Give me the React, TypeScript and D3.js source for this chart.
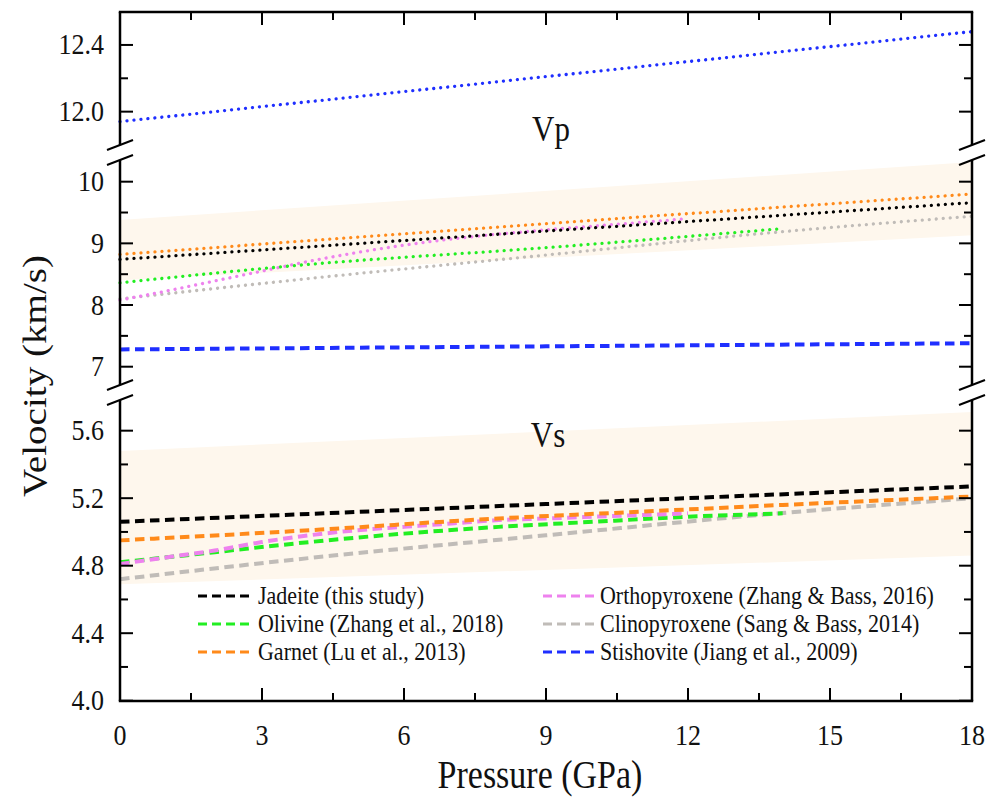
import React from "react";
import * as d3 from "d3";

// ---------- data ----------
const pressureTicks = [0, 3, 6, 9, 12, 15, 18];

type Pt = [number, number];
// Vp (dotted)
const stishoviteVp: Pt[] = [[0, 11.94], [9, 12.21], [18, 12.48]];
const jadeiteVp: Pt[] = [[0, 8.74], [9, 9.2], [18, 9.66]];
const garnetVp: Pt[] = [[0, 8.82], [9, 9.32], [18, 9.8]];
const olivineVp: Pt[] = [[0, 8.36], [4, 8.66], [9, 8.93], [14, 9.24]];
const opxVp: Pt[] = [[0, 8.08], [1, 8.23], [2, 8.39], [3, 8.55], [4, 8.71], [5, 8.85], [6, 8.97], [7, 9.07], [8, 9.15], [9, 9.22], [10, 9.28], [11, 9.34], [12, 9.4]];
const cpxVp: Pt[] = [[0, 8.1], [4, 8.43], [9, 8.81], [14, 9.19], [18, 9.44]];
// Vs (dashed)
const stishoviteVs: Pt[] = [[0, 7.28], [9, 7.33], [18, 7.38]];
const jadeiteVs: Pt[] = [[0, 5.06], [9, 5.165], [18, 5.27]];
const garnetVs: Pt[] = [[0, 4.95], [4, 5.01], [8, 5.08], [11, 5.12], [14, 5.16], [18, 5.21]];
const olivineVs: Pt[] = [[0, 4.82], [2, 4.88], [4, 4.94], [6, 4.99], [8, 5.03], [10, 5.06], [12, 5.09], [14, 5.11]];
const opxVs: Pt[] = [[0, 4.81], [1, 4.85], [2, 4.89], [3, 4.94], [4, 4.98], [5, 5.01], [6, 5.03], [7, 5.05], [8, 5.07], [9, 5.08], [10, 5.09], [11, 5.1], [12, 5.11]];
const cpxVs: Pt[] = [[0, 4.72], [4.5, 4.86], [9, 4.98], [13.5, 5.1], [18, 5.2]];
// shaded ranges [P, low, high]
const vpBand: [number, number, number][] = [[0, 8.4, 9.38], [18, 9.13, 10.32]];
const vsBand: [number, number, number][] = [[0, 4.69, 5.48], [18, 4.86, 5.71]];

const legendNames = [
  "Jadeite (this study)",
  "Olivine (Zhang et al., 2018)",
  "Garnet (Lu et al., 2013)",
  "Orthopyroxene (Zhang & Bass, 2016)",
  "Clinopyroxene (Sang & Bass, 2014)",
  "Stishovite (Jiang et al., 2009)",
];
const colors = ["#000000", "#22ee22", "#ff8a1a", "#ee82ee", "#c0bcb8", "#1f2fff"];

const topTicks = [12.0, 12.2, 12.4];
const midTicks = [7, 7.5, 8, 8.5, 9, 9.5, 10];
const botTicks = [4.0, 4.2, 4.4, 4.6, 4.8, 5.0, 5.2, 5.4, 5.6];

// ---------- layout ----------
const W = 989, H = 801;
const X0 = 120, X1 = 972, YT = 12, YB = 701;
const FONT = "Liberation Serif, Times New Roman, Times, DejaVu Serif, serif";
const SY = 1.15;

const x = d3.scaleLinear().domain([0, 18]).range([X0, X1]);
const yTop = d3.scaleLinear().domain([11.8, 12.6]).range([145, 11.6]);
const yMid = d3.scaleLinear().domain([6.7, 10.35]).range([385.2, 160.1]);
const yBot = d3.scaleLinear().domain([4.0, 5.78]).range([700.7, 400.3]);

const DOT = "0.01 7";
const DASH = "9.5 5.5";

function T(props: { x: number; y: number; size: number; anchor?: string; rotate?: boolean; children: React.ReactNode }) {
  const { x: tx, y: ty, size, anchor = "middle", rotate, children } = props;
  const tr = rotate ? `translate(${tx},${ty}) rotate(-90) scale(${SY},1)` : `translate(${tx},${ty}) scale(1,${SY})`;
  return (
    <text transform={tr} style={{ fontFamily: FONT, fontSize: size }} textAnchor={anchor} fill="#111">
      {children}
    </text>
  );
}

export default function App() {
  const mkLine = (ys: d3.ScaleLinear<number, number>) =>
    d3.line<Pt>().x((d) => x(d[0])).y((d) => ys(d[1])).curve(d3.curveMonotoneX);
  const mkArea = (ys: d3.ScaleLinear<number, number>) =>
    d3.area<[number, number, number]>().x((d) => x(d[0])).y0((d) => ys(d[1])).y1((d) => ys(d[2]));

  const lTop = mkLine(yTop), lMid = mkLine(yMid), lBot = mkLine(yBot);

  const vpLines: [Pt[], string][] = [
    [cpxVp, colors[4]], [opxVp, colors[3]], [olivineVp, colors[1]], [jadeiteVp, colors[0]], [garnetVp, colors[2]],
  ];
  const vsLines: [Pt[], string][] = [
    [cpxVs, colors[4]], [olivineVs, colors[1]], [opxVs, colors[3]], [garnetVs, colors[2]], [jadeiteVs, colors[0]],
  ];

  const segs = [
    { s: yTop, ticks: topTicks, major: [12.0, 12.4], fmt: (v: number) => v.toFixed(1), y0: 145, y1: YT },
    { s: yMid, ticks: midTicks, major: [7, 8, 9, 10], fmt: (v: number) => String(v), y0: 385, y1: 160 },
    { s: yBot, ticks: botTicks, major: [4.0, 4.4, 4.8, 5.2, 5.6], fmt: (v: number) => v.toFixed(1), y0: YB, y1: 400 },
  ];
  const isMajor = (arr: number[], v: number) => arr.some((m) => Math.abs(m - v) < 1e-6);

  const xMinor = d3.range(0, 18.01, 1.5);
  const breaks = [145, 160, 385, 400];

  return (
    <svg width={W} height={H} style={{ position: "absolute", left: 0, top: 0, background: "#fff" }}>
      {/* bands */}
      <path d={mkArea(yMid)(vpBand) || ""} fill="#fef7ed" />
      <path d={mkArea(yBot)(vsBand) || ""} fill="#fef7ed" />

      {/* Vp dotted */}
      <path d={lTop(stishoviteVp) || ""} fill="none" stroke={colors[5]} strokeWidth={3.3} strokeDasharray={DOT} strokeLinecap="round" />
      {vpLines.map(([d, c], i) => (
        <path key={"vp" + i} d={lMid(d) || ""} fill="none" stroke={c} strokeWidth={3.3} strokeDasharray={DOT} strokeLinecap="round" />
      ))}
      <path d={lMid(stishoviteVs) || ""} fill="none" stroke={colors[5]} strokeWidth={4} strokeDasharray={DASH} />
      {vsLines.map(([d, c], i) => (
        <path key={"vs" + i} d={lBot(d) || ""} fill="none" stroke={c} strokeWidth={4} strokeDasharray={DASH} />
      ))}

      {/* frame */}
      <g stroke="#000" strokeWidth={2.5} fill="none">
        <line x1={X0 - 1.2} x2={X1 + 1.2} y1={YT} y2={YT} />
        <line x1={X0 - 1.2} x2={X1 + 1.2} y1={YB} y2={YB} />
        {segs.map((sg, i) => (
          <g key={"ax" + i}>
            <line x1={X0} x2={X0} y1={sg.y0} y2={sg.y1} />
            <line x1={X1} x2={X1} y1={sg.y0} y2={sg.y1} />
          </g>
        ))}
        {breaks.map((b, i) => (
          <g key={"br" + i} strokeWidth={2}>
            <line x1={X0 - 13} y1={b + 5} x2={X0 + 13} y2={b - 5} />
            <line x1={X1 - 13} y1={b + 5} x2={X1 + 13} y2={b - 5} />
          </g>
        ))}
      </g>

      {/* y ticks */}
      <g stroke="#000" strokeWidth={2}>
        {segs.map((sg, i) =>
          sg.ticks.map((v) => {
            const yy = sg.s(v);
            const len = isMajor(sg.major, v) ? 13 : 8;
            return (
              <g key={"t" + i + "-" + v}>
                <line x1={X0} x2={X0 + len} y1={yy} y2={yy} />
                <line x1={X1} x2={X1 - len} y1={yy} y2={yy} />
              </g>
            );
          })
        )}
        {xMinor.map((p) => {
          const len = p % 3 === 0 ? 13 : 8;
          return (
            <g key={"xt" + p}>
              <line x1={x(p)} x2={x(p)} y1={YB} y2={YB - len} />
              <line x1={x(p)} x2={x(p)} y1={YT} y2={YT + len} />
            </g>
          );
        })}
      </g>

      {/* y tick labels */}
      {segs.map((sg, i) =>
        sg.major.map((v) => (
          <T key={"yl" + i + "-" + v} x={104} y={sg.s(v) + 9.5} size={26} anchor="end">
            {sg.fmt(v)}
          </T>
        ))
      )}
      {/* x tick labels */}
      {pressureTicks.map((p) => (
        <T key={"xl" + p} x={x(p)} y={745} size={26}>
          {String(p)}
        </T>
      ))}

      {/* axis titles */}
      <T x={540} y={788} size={34}>Pressure (GPa)</T>
      <T x={46} y={376} size={34} rotate>Velocity (km/s)</T>

      {/* panel labels */}
      <T x={551} y={141} size={31}>Vp</T>
      <T x={548} y={447} size={31}>Vs</T>

      {/* legend */}
      {legendNames.map((name, i) => {
        const col = Math.floor(i / 3), row = i % 3;
        const ly = 596 + row * 28;
        const lx0 = col === 0 ? 198 : 543;
        const tx = col === 0 ? 258 : 600;
        return (
          <g key={"lg" + i}>
            <line x1={lx0} x2={lx0 + 54} y1={ly} y2={ly} stroke={colors[i]} strokeWidth={3} strokeDasharray="9 5" />
            <T x={tx} y={ly + 8} size={22} anchor="start">{name}</T>
          </g>
        );
      })}
    </svg>
  );
}
